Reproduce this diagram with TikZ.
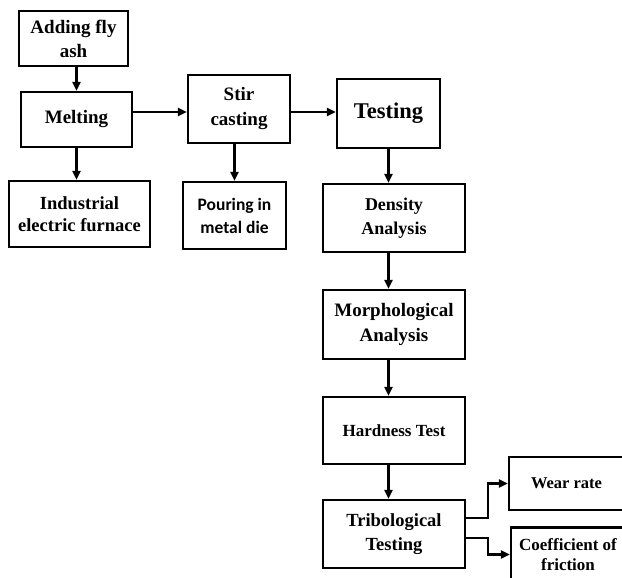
\documentclass[tikz,border=0pt]{standalone}
\usepackage{fontspec}
\setmainfont{Liberation Serif}
\newfontfamily\calfont{Carlito}
\usetikzlibrary{arrows.meta,positioning,calc}
\tikzset{
  procbox/.style={draw, line width=2.4pt, align=center, inner sep=0pt, font=\bfseries\fontsize{19}{24}\selectfont},
  smallbox/.style={procbox, font=\bfseries\fontsize{17}{20}\selectfont},
  cline/.style={-{Triangle[length=9pt, width=8pt]}, line width=2.2pt},
}

\begin{document}
\begin{tikzpicture}[x=1pt, y=-1pt]
  \clip (0,0) rectangle (622,578);
  \fill[white] (0,0) rectangle (622,578);

  % left column
  \node[procbox, minimum width=109pt, minimum height=55pt] (fly) at (73.5,38.5) {Adding fly\\ash};
  \node[procbox, minimum width=111pt, minimum height=55pt] (melt) at (76.5,119.5) {Melting};
  \node[procbox, minimum width=141pt, minimum height=66pt, font=\bfseries\fontsize{18.5}{22}\selectfont] (furn) at (79.5,214) {Industrial\\electric furnace};
  \draw[cline] (melt.north |- fly.south) -- (melt.north);
  \draw[cline] (melt.south) -- (melt.south |- furn.north);

  % casting
  \node[procbox, minimum width=102pt, minimum height=68pt, font=\bfseries\fontsize{19}{25}\selectfont] (stir) at (239,109) {Stir\\casting};
  \node[procbox, minimum width=103pt, minimum height=67pt, font=\calfont\bfseries\fontsize{17.5}{23}\selectfont] (pour) at (234.5,215.5) {Pouring in\\metal die};
  \draw[cline] (melt.east |- 0,112) -- (stir.west |- 0,112);
  \draw[cline] (pour.north |- stir.south) -- (pour.north);

  % testing chain
  \node[procbox, minimum width=103pt, minimum height=69pt, font=\bfseries\fontsize{22.5}{26}\selectfont] (test) at (388.5,113.5) {Testing};
  \draw[cline] (stir.east |- 0,112) -- (test.west |- 0,112);
  \node[procbox, minimum width=142pt, minimum height=68pt, font=\bfseries\fontsize{18}{24}\selectfont] (dens) at (394,218) {Density\\Analysis};
  \node[procbox, minimum width=142pt, minimum height=69pt, font=\bfseries\fontsize{19}{25}\selectfont] (morph) at (394,324.5) {Morphological\\Analysis};
  \node[smallbox, minimum width=142pt, minimum height=67pt] (hard) at (394,430.5) {Hardness Test};
  \node[procbox, minimum width=142pt, minimum height=68pt, font=\bfseries\fontsize{18.5}{24}\selectfont] (trib) at (394,534) {Tribological\\Testing};
  \draw[cline] (test.south) -- (test.south |- dens.north);
  \foreach \a/\b in {dens/morph, morph/hard, hard/trib} {
    \draw[cline] (test.south |- \a.south) -- (test.south |- \b.north);
  }

  % outputs
  \node[smallbox, minimum width=115pt, minimum height=53pt, font=\bfseries\fontsize{16.5}{20}\selectfont] (wear) at (566.5,483.5) {Wear rate};
  \node[smallbox, minimum width=114pt, minimum height=54pt, font=\bfseries\fontsize{17}{19.5}\selectfont] (coef) at (568,554.5) {Coefficient of\\friction};
  \draw[cline] ([yshift=16pt]trib.east) -- ++(22,0) |- (wear.west);
  \draw[cline] ([yshift=-4pt]trib.east) -- ++(22,0) |- (coef.west);
\end{tikzpicture}
\end{document}
